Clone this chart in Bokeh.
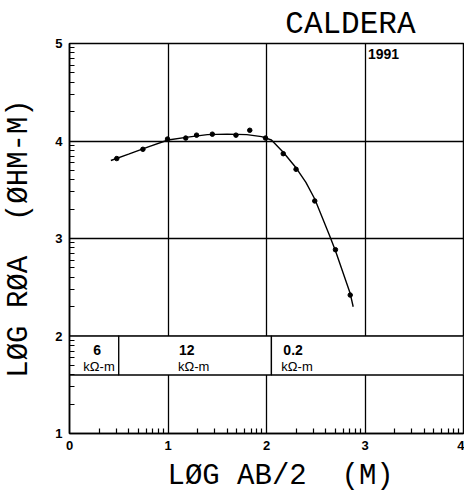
import math
from bokeh.plotting import figure
from bokeh.models import FixedTicker, Label, Title
from bokeh.core.properties import value
from bokeh.embed import file_html
from bokeh.resources import INLINE

# Apparent resistivity sounding (log10 AB/2 in m, log10 rho_a in ohm-m)
ab2_log = [0.48, 0.745, 0.995, 1.18, 1.29, 1.45, 1.69, 1.83, 1.99, 2.17, 2.30, 2.49, 2.70, 2.85]
roa_log = [3.82, 3.915, 4.02, 4.03, 4.06, 4.07, 4.06, 4.11, 4.03, 3.87, 3.71, 3.385, 2.885, 2.42]

# Fitted model response
model_x = [0.42, 0.60, 0.80, 1.00, 1.20, 1.40, 1.60, 1.80, 1.95, 2.05, 2.17, 2.30, 2.40, 2.49, 2.64, 2.70, 2.85, 2.88]
model_y = [3.80, 3.865, 3.94, 4.01, 4.04, 4.065, 4.07, 4.065, 4.045, 4.01, 3.885, 3.725, 3.575, 3.405, 3.03, 2.875, 2.435, 2.30]

# Layered model: layer bounds in log depth, resistivity labels
layer_left = [0.0, 0.5, 2.05]
layer_right = [0.5, 2.05, 4.0]
layer_rho = ["6", "12", "0.2"]
layer_unit = ["kΩ-m", "kΩ-m", "kΩ-m"]
layer_rho_x = [0.28, 1.19, 2.27]
layer_unit_x = [0.30, 1.26, 2.31]
band_bottom, band_top = 1.6, 2.0

x_ticks = [0, 1, 2, 3, 4]
y_ticks = [1, 2, 3, 4, 5]

NBSP = "\u00a0"
mono = "Liberation Mono"


def log_minor(lo, hi):
    return [k + math.log10(m) for k in range(lo, hi) for m in range(2, 10)]


p = figure(width=464, height=499, x_range=(0, 4), y_range=(1, 5),
           output_backend="svg", toolbar_location=None,
           min_border_left=69, min_border_right=1,
           min_border_top=43, min_border_bottom=66)
p.background_fill_color = "white"
p.border_fill_color = "white"
p.outline_line_color = "black"
p.outline_line_width = 1.5

# Title sits to the right, above the frame
p.title.text = "CALDERA"
p.title.align = "right"
p.title.offset = 48
p.title.standoff = 4
p.title.text_font = mono
p.title.text_font_style = "normal"
p.title.text_font_size = "31px"
p.title.text_color = "black"

p.xaxis.ticker = FixedTicker(ticks=x_ticks, minor_ticks=log_minor(0, 4))
p.yaxis.ticker = FixedTicker(ticks=y_ticks, minor_ticks=log_minor(1, 5))
for ax in (p.xaxis[0], p.yaxis[0]):
    ax.axis_line_color = "black"
    ax.axis_line_width = 1.5
    ax.major_tick_in = 0
    ax.major_tick_out = 0
    ax.minor_tick_in = 5
    ax.minor_tick_out = 0
    ax.minor_tick_line_color = "black"
    ax.minor_tick_line_width = 1.2
    ax.major_label_text_font = "Liberation Sans"
    ax.major_label_text_font_style = "bold"
    ax.major_label_text_font_size = "13px"
    ax.major_label_text_color = "black"
p.xaxis.major_label_standoff = 7
p.yaxis.major_label_standoff = 7

p.yaxis.axis_label = "LØG RØA" + NBSP + " (ØHM-M)"
p.yaxis.axis_label_standoff = 16
p.yaxis.axis_label_text_font = mono
p.yaxis.axis_label_text_font_style = "normal"
p.yaxis.axis_label_text_font_size = "29px"
p.yaxis.axis_label_text_color = "black"

p.add_layout(Title(text="LØG AB/2" + NBSP + " (M)", align="left", offset=98, standoff=10,
                   text_font=mono, text_font_style="normal",
                   text_font_size="29px", text_color="black"), "below")

p.grid.grid_line_color = "black"
p.grid.grid_line_width = 1.3
p.grid.grid_line_alpha = 1.0
p.xgrid.ticker = FixedTicker(ticks=x_ticks)
p.ygrid.ticker = FixedTicker(ticks=y_ticks)

# Layer band covering the grid
p.quad(left=layer_left, right=layer_right, bottom=band_bottom, top=band_top,
       fill_color="white", line_color="black", line_width=1.3)
p.text(x=layer_rho_x, y=[1.86] * 3, text=layer_rho,
       text_font=value("Liberation Sans"), text_font_size="14px",
       text_font_style="bold", text_align="center", text_baseline="middle",
       text_color="black")
p.text(x=layer_unit_x, y=[1.685] * 3, text=layer_unit,
       text_font=value("Liberation Sans"), text_font_size="13px",
       text_align="center", text_baseline="middle", text_color="black")

# Model curve and field data
p.line(model_x, model_y, line_color="black", line_width=1.4)
p.scatter(ab2_log, roa_log, size=4.5, fill_color="black", line_color="black")

p.add_layout(Label(x=3.03, y=4.94, text="1991", text_font="Liberation Sans",
                   text_font_style="bold", text_font_size="14px",
                   text_baseline="top", text_color="black"))

open("out.html", "w").write(file_html(p, INLINE))
